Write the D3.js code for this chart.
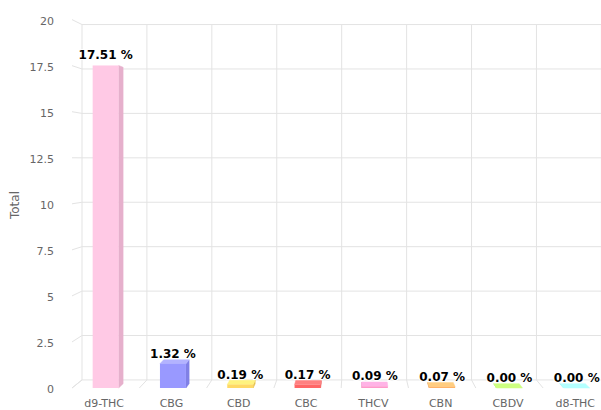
<!DOCTYPE html>
<html>
<head>
<meta charset="utf-8">
<script src="https://cdn.jsdelivr.net/npm/d3@7"></script>
<style>
  html, body { margin: 0; padding: 0; background: #fff; }
  svg { display: block; font-family: "DejaVu Sans", sans-serif; }
</style>
</head>
<body>
<svg id="chart" width="601" height="410"></svg>
<script>
const categories = ["d9-THC", "CBG", "CBD", "CBC", "THCV", "CBN", "CBDV", "d8-THC"];
const values = [17.51, 1.32, 0.19, 0.17, 0.09, 0.07, 0.00, 0.00];
const colors = ["#ffc9e5", "#9999ff", "#ffd966", "#ff6666", "#ff99cc", "#ffb366", "#b3ff66", "#99ffff"];
const yTicks = [0, 2.5, 5, 7.5, 10, 12.5, 15, 17.5, 20];
const yTickLabels = ["0", "2.5", "5", "7.5", "10", "12.5", "15", "17.5", "20"];
const yTitle = "Total";

const svg = d3.select("#chart");
const W = 601, H = 410;
svg.append("rect").attr("width", W).attr("height", H).attr("fill", "#fff");

// front-plane scales
const xF = d3.scaleBand().domain(categories).range([72, 72 + 8 * 67.3]).padding(0);
const yF = d3.scaleLinear().domain([0, 20]).range([388, 19.6]);

// simple perspective
const vx = 355, vy = 160;
const sBack = 0.9647, sBar = 0.981;
const proj = (x, y, s) => [vx + (x - vx) * s, vy + (y - vy) * s];

const gridColor = "#e3e3e3";
const grid = svg.append("g").attr("stroke", gridColor).attr("stroke-width", 1).attr("fill", "none");
const line = d3.line();

const xLeft = xF.range()[0], xRight = xF.range()[1];
// back wall horizontal lines
yTicks.forEach(t => {
  grid.append("path").attr("d", line([proj(xLeft, yF(t), sBack), proj(xRight, yF(t), sBack)]));
  // side wall lines
  grid.append("path").attr("d", line([proj(xLeft, yF(t), 1), proj(xLeft, yF(t), sBack)]));
});
// category boundaries
const bounds = categories.map(c => xF(c)).concat([xRight]);
bounds.forEach(b => {
  grid.append("path").attr("d", line([proj(b, yF(0), sBack), proj(b, yF(20), sBack)]));
  grid.append("path").attr("d", line([proj(b, yF(0), 1), proj(b, yF(0), sBack)]));
});

// y-axis labels
svg.append("g").selectAll("text").data(yTicks).join("text")
  .attr("x", 54).attr("y", t => yF(t) + 5)
  .attr("text-anchor", "end")
  .attr("font-size", 11).attr("fill", "#666666")
  .text((t, i) => yTickLabels[i]);

// y title
svg.append("text")
  .attr("transform", "translate(19,205) rotate(-90)")
  .attr("text-anchor", "middle")
  .attr("font-size", 12).attr("fill", "#666666")
  .text(yTitle);

// x labels
svg.append("g").selectAll("text").data(categories).join("text")
  .attr("x", c => xF(c) + xF.bandwidth() / 2 - 1.5)
  .attr("y", 407)
  .attr("text-anchor", "middle")
  .attr("font-size", 11).attr("fill", "#666666")
  .text(c => c);

function shade(c, k) {
  const r = d3.rgb(c);
  const f = v => Math.max(0, Math.min(255, Math.round(v + k * 255)));
  return d3.rgb(f(r.r), f(r.g), f(r.b)).formatHex();
}

const barW = xF.bandwidth() * 0.386;
const bars = svg.append("g");
const poly = pts => "M" + pts.map(p => p.join(",")).join("L") + "Z";

categories.forEach((c, i) => {
  const cx = xF(c) + xF.bandwidth() / 2;
  const x0 = cx - barW / 2, x1 = cx + barW / 2;
  const yT = yF(values[i]), yB = yF(0);
  const col = colors[i];
  const g = bars.append("g");
  // side face
  if (x1 < vx) {
    g.append("path").attr("d", poly([proj(x1, yT, 1), proj(x1, yB, 1), proj(x1, yB, sBar), proj(x1, yT, sBar)]))
      .attr("fill", shade(col, -0.1)).attr("stroke", shade(col, -0.1)).attr("stroke-width", 0.5);
  } else if (x0 > vx) {
    g.append("path").attr("d", poly([proj(x0, yT, 1), proj(x0, yB, 1), proj(x0, yB, sBar), proj(x0, yT, sBar)]))
      .attr("fill", shade(col, -0.1)).attr("stroke", shade(col, -0.1)).attr("stroke-width", 0.5);
  }
  // top face
  if (yT > vy) {
    g.append("path").attr("d", poly([proj(x0, yT, 1), proj(x1, yT, 1), proj(x1, yT, sBar), proj(x0, yT, sBar)]))
      .attr("fill", shade(col, 0.1)).attr("stroke", shade(col, 0.1)).attr("stroke-width", 0.5);
  }
  // front face
  if (yB - yT > 0) {
    g.append("rect").attr("x", x0).attr("y", yT).attr("width", barW).attr("height", yB - yT)
      .attr("fill", col);
  }
});

// data labels
const fmt = d3.format(".2f");
svg.append("g").selectAll("text").data(categories).join("text")
  .attr("x", c => xF(c) + xF.bandwidth() / 2)
  .attr("y", (c, i) => yF(values[i]) - 6)
  .attr("text-anchor", "middle")
  .attr("font-size", 12).attr("font-weight", "bold")
  .attr("fill", "#000")
  .attr("stroke", "#fff").attr("stroke-width", 2).attr("stroke-linejoin", "round")
  .attr("paint-order", "stroke")
  .text((c, i) => fmt(values[i]) + " %");
</script>
</body>
</html>
